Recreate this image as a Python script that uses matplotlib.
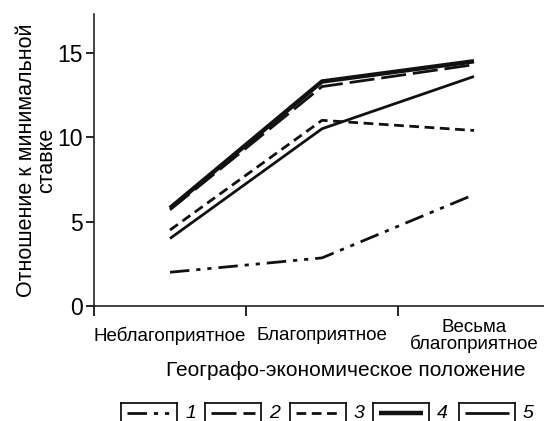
import matplotlib.pyplot as plt
import numpy as np

plt.rcParams['font.family'] = ['Liberation Sans', 'DejaVu Sans']

# категории по оси X
categories = ['Неблагоприятное', 'Благоприятное', 'Весьма\nблагоприятное']
series_names = ['1', '2', '3', '4', '5']
s1 = [2.0, 2.85, 6.6]
s2 = [5.7, 13.0, 14.3]
s3 = [4.5, 11.0, 10.4]
s4 = [5.8, 13.3, 14.5]
s5 = [4.0, 10.5, 13.6]
values = [s1, s2, s3, s4, s5]

# стиль линий: (ширина, штрихи)
styles = [
    (2.0, (7, 2.5, 1.5, 2.5, 1.5, 2.5)),
    (2.0, (9, 2.5)),
    (2.0, (3.5, 2)),
    (3.2, None),
    (2.0, None),
]

W, H = 544, 421
fig = plt.figure(figsize=(W / 100, H / 100), dpi=100)
ax = fig.add_axes([94 / W, 1 - 306 / H, 456 / W, 292 / H])

x = np.arange(len(categories)) + 0.5
for vals, (lw, dash) in zip(values, styles):
    line, = ax.plot(x, vals, color='#111111', linewidth=lw, solid_capstyle='butt')
    if dash is not None:
        line.set_dashes(dash)
        line.set_dash_capstyle('butt')

ax.set_xlim(0, 3)
ax.set_ylim(0, 17.3)
ax.set_yticks([0, 5, 10, 15])
ax.set_xticks([0, 1, 2])
ax.set_xticklabels([])
ax.set_xticks(x, minor=True)
ax.set_xticklabels(categories, minor=True, fontsize=13.5, linespacing=0.95, va='center')
ax.tick_params(axis='x', which='minor', length=0, pad=21.5)
ax.tick_params(axis='x', which='major', length=7, width=1.2, direction='out')
ax.tick_params(axis='y', length=6, width=1.2, labelsize=16.5, pad=2)
for sp in ['top', 'right']:
    ax.spines[sp].set_visible(False)
for sp in ['left', 'bottom']:
    ax.spines[sp].set_linewidth(1.2)
    ax.spines[sp].set_color('#222222')

ax.set_xlabel('Географо-экономическое положение', fontsize=15, labelpad=6, x=(346 - 94) / 456)
ax.set_ylabel('Отношение к минимальной\nставке', fontsize=15.5, labelpad=0, linespacing=0.95)

# легенда в рамках
box_left = [121, 205, 290, 373, 459]
box_w = 56
for i, (bx, (lw, dash)) in enumerate(zip(box_left, styles)):
    lax = fig.add_axes([bx / W, -10 / H, box_w / W, 28 / H])
    lax.set_xlim(0, 1)
    lax.set_ylim(0, 1)
    lax.set_xticks([])
    lax.set_yticks([])
    for sp in lax.spines.values():
        sp.set_linewidth(1.2)
    ln, = lax.plot([0.1, 0.9], [0.64, 0.64], color='#111111', linewidth=lw, solid_capstyle='butt')
    if dash is not None:
        ln.set_dashes(dash)
    fig.text((bx + box_w + 8) / W, 1 - 413 / H, series_names[i], fontsize=14,
             style='italic', va='center', ha='left')

fig.savefig('out.png', dpi=100)
